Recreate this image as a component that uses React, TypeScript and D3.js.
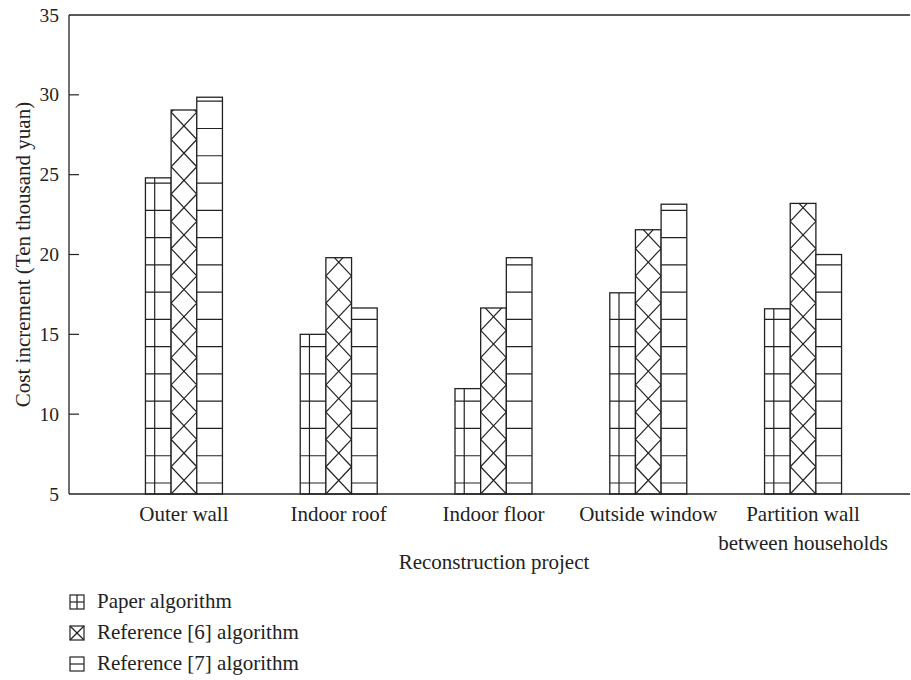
import * as d3 from 'd3';
import React, { useRef, useEffect } from 'react';

const categories = ["Outer wall", "Indoor roof", "Indoor floor", "Outside window", "Partition wall\nbetween households"];
const seriesNames = ["Paper algorithm", "Reference [6] algorithm", "Reference [7] algorithm"];
const paperValues = [24.8, 15.0, 11.6, 17.6, 16.6];
const ref6Values = [29.05, 19.8, 16.65, 21.55, 23.2];
const ref7Values = [29.85, 16.65, 19.8, 23.15, 20.0];
const yTicks = [5, 10, 15, 20, 25, 30, 35];

const width = 911;
const height = 680;
const margin = { top: 15, right: 0, bottom: 186, left: 69 };
const ink = "#222";
const font = "'Liberation Serif', 'Times New Roman', serif";
const hatchStep = 27.27;

function App(): any {
  const ref = useRef(null);

  useEffect(() => {
    const svg = d3.select(ref.current);
    svg.selectAll("*").remove();

    const series = [paperValues, ref6Values, ref7Values];

    // groups sit a little right of the plot's centre
    const x = d3.scalePoint()
      .domain(categories)
      .range([margin.left + 3.5, width - margin.right + 3.5])
      .padding(0.72);

    const inner = d3.scaleBand()
      .domain(["0", "1", "2"])
      .range([-38.5, 38.5]);

    const y = d3.scaleLinear()
      .domain([5, 35])
      .range([height - margin.bottom, margin.top]);

    const base = y(5);
    const g = svg.append("g");
    const defs = svg.append("defs");

    // bars
    series.forEach((vals, si) => {
      vals.forEach((v, ci) => {
        const x0 = (x(categories[ci]) || 0) + (inner(String(si)) || 0);
        const w = inner.bandwidth();
        const top = y(v);
        const id = "clip-" + si + "-" + ci;
        defs.append("clipPath").attr("id", id)
          .append("rect").attr("x", x0).attr("y", top).attr("width", w).attr("height", base - top);

        const bar = g.append("g");
        bar.append("rect")
          .attr("x", x0).attr("y", top).attr("width", w).attr("height", base - top)
          .attr("fill", "white");

        const hatch = bar.append("g").attr("clip-path", "url(#" + id + ")")
          .attr("stroke", ink).attr("stroke-width", 1.2).attr("fill", "none");

        if (si === 0 || si === 2) {
          for (let ly = base - 11; ly > top; ly -= hatchStep) {
            hatch.append("line").attr("x1", x0).attr("x2", x0 + w).attr("y1", ly).attr("y2", ly);
          }
        }
        if (si === 0) {
          hatch.append("line").attr("x1", x0 + w * 0.36).attr("x2", x0 + w * 0.36)
            .attr("y1", top).attr("y2", base);
        }
        if (si === 1) {
          for (let ly = base; ly > top - hatchStep; ly -= hatchStep) {
            hatch.append("line").attr("x1", x0).attr("y1", ly).attr("x2", x0 + w).attr("y2", ly - hatchStep);
            hatch.append("line").attr("x1", x0).attr("y1", ly - hatchStep).attr("x2", x0 + w).attr("y2", ly);
          }
        }

        bar.append("rect")
          .attr("x", x0).attr("y", top).attr("width", w).attr("height", base - top)
          .attr("fill", "none").attr("stroke", ink).attr("stroke-width", 1.3);
      });
    });

    // frame
    g.append("line").attr("x1", margin.left).attr("x2", width - 1)
      .attr("y1", base).attr("y2", base).attr("stroke", ink).attr("stroke-width", 1.3);
    g.append("line").attr("x1", margin.left).attr("x2", width - 1)
      .attr("y1", y(35)).attr("y2", y(35)).attr("stroke", ink).attr("stroke-width", 1.3);
    g.append("line").attr("x1", margin.left).attr("x2", margin.left)
      .attr("y1", y(35)).attr("y2", base).attr("stroke", ink).attr("stroke-width", 1.3);

    // y ticks
    yTicks.forEach(t => {
      if (t !== 5 && t !== 35) {
        g.append("line").attr("x1", margin.left).attr("x2", margin.left + 10)
          .attr("y1", y(t)).attr("y2", y(t)).attr("stroke", ink).attr("stroke-width", 1.2);
      }
      g.append("text").attr("x", margin.left - 10).attr("y", y(t) + 6.5)
        .attr("text-anchor", "end").attr("font-family", font).attr("font-size", 19.5)
        .attr("fill", ink).text(t);
    });

    // category labels
    categories.forEach(c => {
      const lines = c.split("\n");
      lines.forEach((ln, i) => {
        g.append("text").attr("x", x(c) || 0).attr("y", base + 27 + i * 29)
          .attr("text-anchor", "middle").attr("font-family", font).attr("font-size", 21)
          .attr("fill", ink).text(ln);
      });
    });

    g.append("text").attr("x", (margin.left + width) / 2 + 4).attr("y", 569)
      .attr("text-anchor", "middle").attr("font-family", font).attr("font-size", 21)
      .attr("fill", ink).text("Reconstruction project");

    g.append("text").attr("transform", "translate(30," + ((y(5) + y(35)) / 2) + ") rotate(-90)")
      .attr("text-anchor", "middle").attr("font-family", font).attr("font-size", 21)
      .attr("fill", ink).text("Cost increment (Ten thousand yuan)");

    // legend
    seriesNames.forEach((name, i) => {
      const ly = 608 + i * 31;
      const lg = g.append("g").attr("stroke", ink).attr("stroke-width", 1.2).attr("fill", "none");
      const bx = 70, by = ly - 13, s = 14;
      lg.append("rect").attr("x", bx).attr("y", by).attr("width", s).attr("height", s).attr("fill", "white");
      if (i === 0) {
        lg.append("line").attr("x1", bx + s / 2).attr("x2", bx + s / 2).attr("y1", by).attr("y2", by + s);
        lg.append("line").attr("x1", bx).attr("x2", bx + s).attr("y1", by + s / 2).attr("y2", by + s / 2);
      } else if (i === 1) {
        lg.append("line").attr("x1", bx).attr("x2", bx + s).attr("y1", by).attr("y2", by + s);
        lg.append("line").attr("x1", bx).attr("x2", bx + s).attr("y1", by + s).attr("y2", by);
      } else {
        lg.append("line").attr("x1", bx).attr("x2", bx + s).attr("y1", by + s / 2).attr("y2", by + s / 2);
      }
      g.append("text").attr("x", 97).attr("y", ly).attr("font-family", font).attr("font-size", 21)
        .attr("fill", ink).text(name);
    });
  }, []);

  return (
    <svg
      ref={ref}
      width={width}
      height={height}
      style={{ position: "absolute", left: 0, top: 0, background: "white" }}
    />
  );
}

export default App;
